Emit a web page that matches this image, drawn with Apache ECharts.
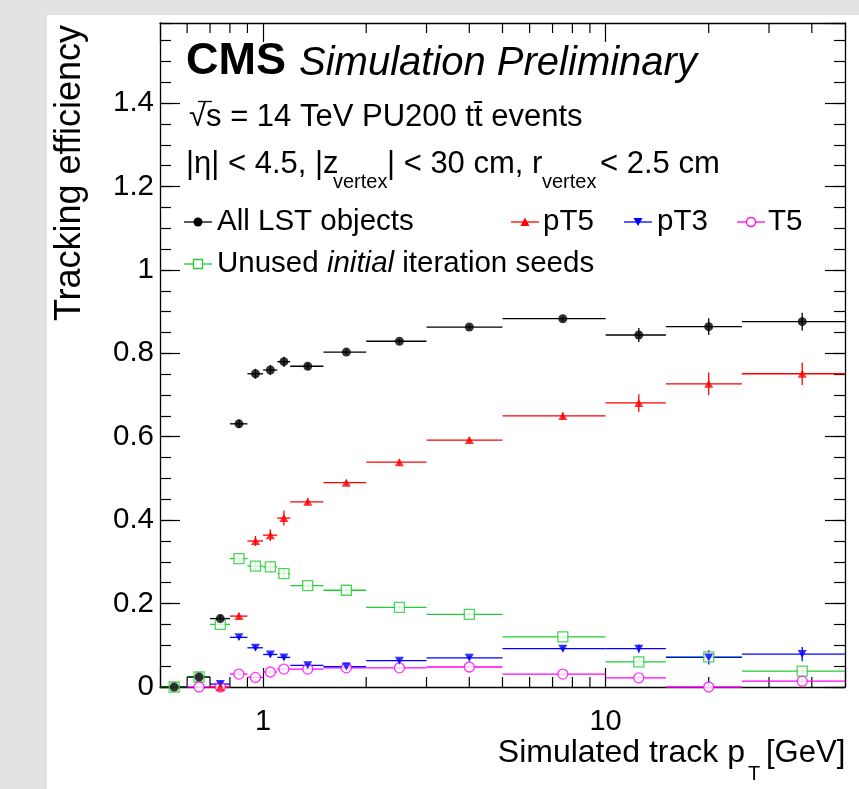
<!DOCTYPE html>
<html>
<head>
<meta charset="utf-8">
<script src="https://cdn.jsdelivr.net/npm/echarts@6/dist/echarts.min.js"></script>
<style>
html,body{margin:0;padding:0;background:#e2e2e2;width:859px;height:789px;overflow:hidden;}
#paper{position:absolute;left:47px;top:15px;right:0;bottom:0;background:#fff;}
#c{position:absolute;left:0;top:0;width:859px;height:789px;}
</style>
</head>
<body>
<div id="paper"></div>
<div id="c"></div>
<script>
// ---- data ----
const binLow    = [0.5, 0.6, 0.7, 0.8, 0.9, 1.0, 1.1, 1.2, 1.5, 2, 3, 5, 10, 15, 25];
const binHigh   = [0.6, 0.7, 0.8, 0.9, 1.0, 1.1, 1.2, 1.5, 2, 3, 5, 10, 15, 25, 50];
const binCenter = [0.55, 0.65, 0.75, 0.85, 0.95, 1.05, 1.15, 1.35, 1.75, 2.5, 4, 7.5, 12.5, 20, 37.5];

const allLST    = [0.0, 0.024, 0.164, 0.631, 0.751, 0.760, 0.780, 0.769, 0.803, 0.829, 0.863, 0.883, 0.844, 0.864, 0.876];
const allLSTErr = [0.0, 0.006, 0.010, 0.010, 0.012, 0.012, 0.012, 0.008, 0.006, 0.005, 0.005, 0.006, 0.017, 0.020, 0.021];
const pT5       = [null, null, 0.0, 0.170, 0.350, 0.364, 0.405, 0.444, 0.490, 0.539, 0.592, 0.650, 0.681, 0.727, 0.751];
const pT5Err    = [0, 0, 0.0, 0.008, 0.012, 0.014, 0.018, 0.009, 0.007, 0.006, 0.006, 0.009, 0.021, 0.027, 0.027];
const pT3       = [null, null, 0.007, 0.119, 0.094, 0.078, 0.071, 0.052, 0.049, 0.063, 0.070, 0.092, 0.092, 0.071, 0.079];
const pT3Err    = [0, 0, 0.004, 0.006, 0.006, 0.006, 0.006, 0.004, 0.004, 0.004, 0.004, 0.006, 0.010, 0.017, 0.017];
const T5        = [null, 0.0, 0.0, 0.031, 0.023, 0.036, 0.043, 0.043, 0.046, 0.046, 0.048, 0.031, 0.022, 0.0, 0.014];
const T5Err     = [0, 0, 0, 0.004, 0.004, 0.004, 0.004, 0.003, 0.003, 0.003, 0.003, 0.004, 0.005, 0.003, 0.005];
const seeds     = [0.0, 0.024, 0.150, 0.308, 0.290, 0.288, 0.272, 0.243, 0.232, 0.191, 0.174, 0.120, 0.060, 0.072, 0.038];
const seedsErr  = [0.0, 0.006, 0.010, 0.010, 0.011, 0.011, 0.011, 0.007, 0.006, 0.005, 0.005, 0.006, 0.008, 0.012, 0.008];

const xMinorTicks = [0.6, 0.7, 0.8, 0.9, 2, 3, 4, 5, 6, 7, 8, 9, 20, 30, 40];
const X_MIN = 0.5, X_MAX = 50, Y_MIN = 0, Y_MAX = 1.592;

// ---- styling ----
const FONT = '"Liberation Sans", Arial, Helvetica, sans-serif';
const C_BLACK = '#000000', C_RED = '#ff0000', C_BLUE = '#0000ff', C_MAG = '#ff00ff', C_GREEN = '#22cc33';

const chart = echarts.init(document.getElementById('c'), null, {renderer: 'canvas'});

function rows(vals, errs) {
  const out = [];
  vals.forEach((v, i) => { if (v !== null) out.push([binCenter[i], v, binLow[i], binHigh[i], errs[i]]); });
  return out;
}

function binSeries(vals, errs, color) {
  return {
    type: 'custom', coordinateSystem: 'cartesian2d', xAxisIndex: 0, yAxisIndex: 0,
    silent: true, clip: false, z: 2,
    data: rows(vals, errs),
    encode: {x: 0, y: 1},
    renderItem(params, api) {
      const c = api.value(0), y = api.value(1), lo = api.value(2), hi = api.value(3), e = api.value(4);
      const p1 = api.coord([lo, y]), p2 = api.coord([hi, y]);
      const q1 = api.coord([c, y - e]), q2 = api.coord([c, y + e]);
      return {type: 'group', children: [
        {type: 'line', shape: {x1: p1[0], y1: p1[1], x2: p2[0], y2: p2[1]}, style: {stroke: color, lineWidth: 1.3}},
        {type: 'line', shape: {x1: q1[0], y1: q1[1], x2: q2[0], y2: q2[1]}, style: {stroke: color, lineWidth: 1.3}}
      ]};
    }
  };
}

function markerSeries(name, vals, errs, symbol, size, itemStyle) {
  return {
    type: 'scatter', name: name, xAxisIndex: 0, yAxisIndex: 0, clip: false, silent: true, z: 3,
    data: rows(vals, errs).map(r => [r[0], r[1]]),
    symbol: symbol, symbolSize: size, itemStyle: itemStyle
  };
}

const minorTickSeries = {
  type: 'custom', coordinateSystem: 'cartesian2d', xAxisIndex: 0, yAxisIndex: 0,
  silent: true, clip: false, z: 1,
  data: xMinorTicks.map(v => [v, Y_MIN]),
  encode: {x: 0, y: 1},
  renderItem(params, api) {
    const v = api.value(0);
    const b = api.coord([v, Y_MIN]), t = api.coord([v, Y_MAX]);
    return {type: 'group', children: [
      {type: 'line', shape: {x1: b[0], y1: b[1], x2: b[0], y2: b[1] - 10}, style: {stroke: '#000', lineWidth: 1.2}},
      {type: 'line', shape: {x1: t[0], y1: t[1], x2: t[0], y2: t[1] + 10}, style: {stroke: '#000', lineWidth: 1.2}}
    ]};
  }
};

function isDecade(v) { const l = Math.log10(v); return Math.abs(l - Math.round(l)) < 1e-6; }

const xBase = {
  type: 'log', logBase: 10, min: X_MIN, max: X_MAX, gridIndex: 0,
  axisLine: {show: true, onZero: false, lineStyle: {color: '#000', width: 1.3}},
  axisTick: {show: true, inside: true, length: 19, lineStyle: {color: '#000', width: 1.2}},
  splitLine: {show: false}, minorTick: {show: false}
};
const yBase = {
  type: 'value', min: Y_MIN, max: Y_MAX, gridIndex: 0,
  splitLine: {show: false}, axisLabel: {show: false}
};

const txt = (text, x, y, size, extra) => ({
  type: 'text', x: x, y: y, silent: true,
  style: Object.assign({text: text, fill: '#000', fontSize: size, fontFamily: FONT, align: 'left', verticalAlign: 'middle'}, extra || {})
});

const LEG = 29.5;
const graphics = [
  // header texts
  txt('CMS', 186, 62, 45, {fontWeight: 'bold'}),
  txt('Simulation Preliminary', 299, 64, 40, {fontStyle: 'italic'}),
  txt('\u221As = 14 TeV PU200 tt\u0304 events', 189, 117, 31),
  {type: 'line', silent: true, shape: {x1: 198, y1: 101.5, x2: 212, y2: 101.5}, style: {stroke: '#000', lineWidth: 1.3}},
  txt('|\u03B7| < 4.5, |z', 186, 164, 31),
  txt('vertex', 333, 182, 20),
  txt('| < 30 cm, r', 387, 164, 31),
  txt('vertex', 542, 182, 20),
  txt('< 2.5 cm', 600, 164, 31),
  // legend
  {type: 'line', silent: true, shape: {x1: 184, y1: 222, x2: 212, y2: 222}, style: {stroke: C_BLACK, lineWidth: 1.3}},
  {type: 'circle', silent: true, shape: {cx: 198, cy: 222, r: 4.5}, style: {fill: C_BLACK}},
  txt('All LST objects', 217, 222, LEG),
  {type: 'line', silent: true, shape: {x1: 511, y1: 222, x2: 539, y2: 222}, style: {stroke: C_RED, lineWidth: 1.3}},
  {type: 'polygon', silent: true, shape: {points: [[525, 217.5], [529.5, 226], [520.5, 226]]}, style: {fill: C_RED}},
  txt('pT5', 543, 222, LEG),
  {type: 'line', silent: true, shape: {x1: 624, y1: 222, x2: 652, y2: 222}, style: {stroke: C_BLUE, lineWidth: 1.3}},
  {type: 'polygon', silent: true, shape: {points: [[633.5, 218], [642.5, 218], [638, 226]]}, style: {fill: C_BLUE}},
  txt('pT3', 657, 222, LEG),
  {type: 'line', silent: true, shape: {x1: 737, y1: 222, x2: 765, y2: 222}, style: {stroke: C_MAG, lineWidth: 1.3}},
  {type: 'circle', silent: true, shape: {cx: 751, cy: 222, r: 4.5}, style: {fill: '#fff', stroke: C_MAG, lineWidth: 1.3}},
  txt('T5', 768, 222, LEG),
  {type: 'line', silent: true, shape: {x1: 184, y1: 264, x2: 212, y2: 264}, style: {stroke: C_GREEN, lineWidth: 1.3}},
  {type: 'rect', silent: true, shape: {x: 193.5, y: 259.5, width: 9, height: 9}, style: {fill: '#fff', stroke: C_GREEN, lineWidth: 1.3}},
  txt('Unused {i|initial} iteration seeds', 217, 264, LEG, {rich: {i: {fontStyle: 'italic', fontSize: LEG, fontFamily: FONT, fill: '#000'}}}),
  // axis titles
  {type: 'text', x: 70, y: 25, rotation: Math.PI / 2, silent: true,
   style: {text: 'Tracking efficiency', fill: '#000', fontSize: 36, fontFamily: FONT, align: 'right', verticalAlign: 'middle'}},
  txt('Simulated track p', 745, 753, 32, {align: 'right'}),
  txt('T', 748, 774, 20),
  txt('[GeV]', 766, 753, 31)
];

const option = {
  animation: false,
  backgroundColor: 'transparent',
  grid: {left: 160, right: 14, top: 23, bottom: 102, containLabel: false},
  xAxis: [
    Object.assign({}, xBase, {position: 'bottom',
      axisLabel: {show: true, fontSize: 29, fontFamily: FONT, color: '#000', margin: 20,
        formatter: v => isDecade(v) ? String(Math.round(v)) : ''}}),
    Object.assign({}, xBase, {position: 'top', axisLabel: {show: false}})
  ],
  yAxis: [
    Object.assign({}, yBase, {position: 'left', interval: 0.2,
      axisLine: {show: true, onZero: false, lineStyle: {color: '#000', width: 1.3}},
      axisTick: {show: true, inside: true, length: 20, lineStyle: {color: '#000', width: 1.2}},
      axisLabel: {show: true, fontSize: 29.5, fontFamily: FONT, color: '#000', margin: 6, showMaxLabel: false}}),
    Object.assign({}, yBase, {position: 'left', interval: 0.05,
      axisLine: {show: false, onZero: false},
      axisTick: {show: true, inside: true, length: 11, lineStyle: {color: '#000', width: 1.2}}}),
    Object.assign({}, yBase, {position: 'right', interval: 0.2,
      axisLine: {show: true, onZero: false, lineStyle: {color: '#000', width: 1.3}},
      axisTick: {show: true, inside: true, length: 20, lineStyle: {color: '#000', width: 1.2}}}),
    Object.assign({}, yBase, {position: 'right', interval: 0.05,
      axisLine: {show: false, onZero: false},
      axisTick: {show: true, inside: true, length: 11, lineStyle: {color: '#000', width: 1.2}}})
  ],
  graphic: graphics,
  series: [
    minorTickSeries,
    binSeries(seeds, seedsErr, C_GREEN),
    binSeries(T5, T5Err, C_MAG),
    binSeries(pT3, pT3Err, C_BLUE),
    binSeries(pT5, pT5Err, C_RED),
    binSeries(allLST, allLSTErr, C_BLACK),
    markerSeries('Unused initial iteration seeds', seeds, seedsErr, 'rect', 10,
      {color: '#fff', borderColor: C_GREEN, borderWidth: 1.3}),
    markerSeries('T5', T5, T5Err, 'circle', 10,
      {color: '#fff', borderColor: C_MAG, borderWidth: 1.3}),
    markerSeries('pT3', pT3, pT3Err, 'path://M0,0L10,0L5,9Z', [9, 8], {color: C_BLUE}),
    markerSeries('pT5', pT5, pT5Err, 'triangle', [9, 8], {color: C_RED}),
    markerSeries('All LST objects', allLST, allLSTErr, 'circle', 9, {color: C_BLACK})
  ]
};
chart.setOption(option);
</script>
</body>
</html>
